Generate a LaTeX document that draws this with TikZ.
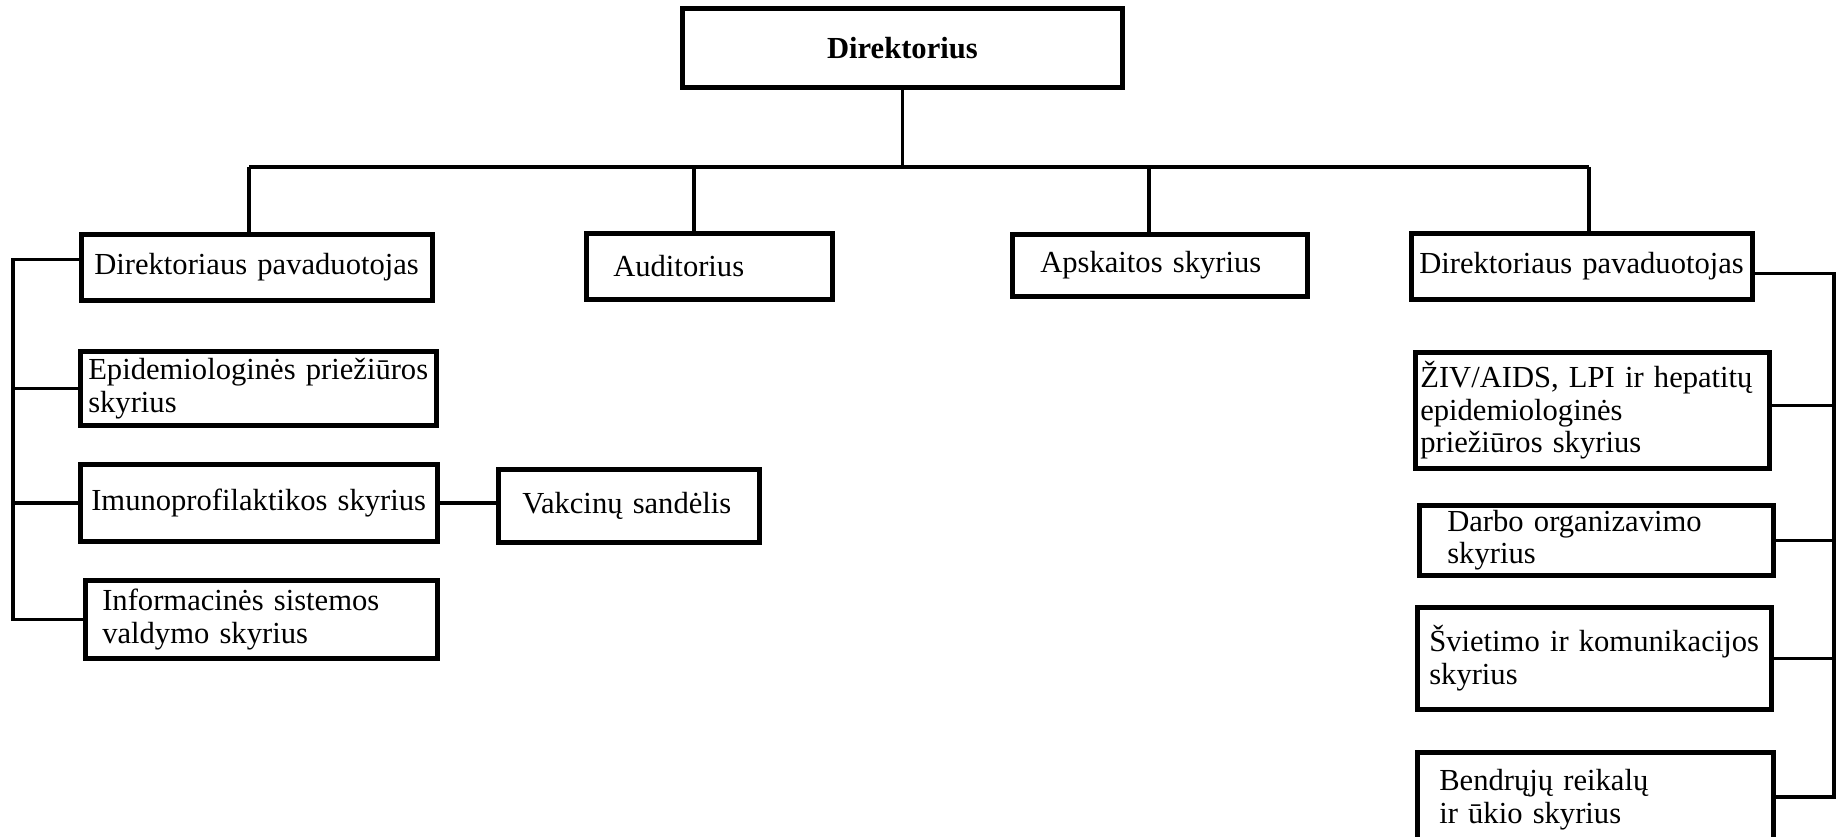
\documentclass[tikz,border=0pt]{standalone}
\usepackage{fontspec}
\setmainfont{Liberation Serif}
\usetikzlibrary{positioning, calc}
\newcommand{\deptfont}{\fontsize{8.7}{9.3}\selectfont}
\hyphenpenalty=10000

\begin{document}
\begin{tikzpicture}[x=0.01cm, y=-0.01cm,
  unit/.style={draw, line width=1.3pt, anchor=north west, align=left, inner ysep=0pt, font=\deptfont},
  head/.style={draw, line width=1.3pt, anchor=north west, align=center, font=\deptfont\bfseries},
  link/.style={line width=1pt}]
  \useasboundingbox (0,0) rectangle (1836,837);
  \fill[white] (0,0) rectangle (1836,837);
  \clip (0,0) rectangle (1836,837);

  % Top
  \node[head, minimum width=4.4cm, minimum height=0.79cm] (dir) at (680,6) {Direktorius};

  % Second level
  \node[unit, text width=3.25cm, inner xsep=0.13cm, minimum height=0.66cm] (dpl) at (79,232) {Direktoriaus pavaduotojas};
  \node[unit, text width=1.92cm, inner xsep=0.27cm, minimum height=0.66cm] (aud) at (584,231) {Auditorius};
  \node[unit, text width=2.39cm, inner xsep=0.28cm, minimum height=0.62cm] (aps) at (1010,232) {Apskaitos skyrius};
  \node[unit, text width=3.25cm, inner xsep=0.08cm, minimum height=0.66cm] (dpr) at (1409,231) {Direktoriaus pavaduotojas};

  % Left deputy units
  \node[unit, text width=3.40cm, inner xsep=0.08cm, minimum height=0.74cm] (epi) at (78,349) {Epidemiologinės priežiūros\\skyrius};
  \node[unit, text width=3.35cm, inner xsep=0.11cm, minimum height=0.77cm] (imu) at (78,462) {Imunoprofilaktikos skyrius};
  \node[unit, text width=2.13cm, inner xsep=0.24cm, minimum height=0.73cm] (vak) at (496,467) {Vakcinų sandėlis};
  \node[unit, text width=3.18cm, inner xsep=0.17cm, minimum height=0.78cm] (inf) at (83,578) {Informacinės sistemos\\valdymo skyrius};

  % Right deputy units
  \node[unit, text width=3.44cm, inner xsep=0.05cm, minimum height=1.16cm] (ziv) at (1413,350) {ŽIV/AIDS, LPI ir hepatitų\\epidemiologinės\\priežiūros skyrius};
  \node[unit, text width=2.98cm, inner xsep=0.28cm, minimum height=0.70cm] (dar) at (1417,503) {Darbo organizavimo\\skyrius};
  \node[unit, text width=3.30cm, inner xsep=0.12cm, minimum height=1.02cm] (svi) at (1415,605) {Švietimo ir komunikacijos\\skyrius};
  \node[unit, text width=3.12cm, inner xsep=0.22cm, minimum height=0.95cm] (ben) at (1415,750) {Bendrųjų reikalų\\ir ūkio skyrius};

  % Bus under Direktorius
  \coordinate (busL) at (249,167);
  \coordinate (busR) at (1589,167);
  \coordinate (jaud) at (694,167);
  \coordinate (japs) at (1149,167);
  \draw[link] (dir.south) -- (dir.south |- busL);
  \draw[link] (busL) -- (busR);
  \draw[link] (busL) -- (busL |- dpl.north);
  \draw[link] (jaud) -- (jaud |- aud.north);
  \draw[link] (japs) -- (japs |- aps.north);
  \draw[link] (busR) -- (busR |- dpr.north);

  % Left spine
  \coordinate (spL) at (13,400);
  \draw[link] ([yshift=0.08cm]dpl.west) -| (spL) |- (inf.west);
  \draw[link] (epi.west) -- (epi.west -| spL);
  \draw[link] (imu.west) -- (imu.west -| spL);
  \draw[link] (imu.east) -- (imu.east -| vak.west);

  % Right spine
  \coordinate (spR) at (1834,500);
  \draw[link] ([yshift=-0.07cm]dpr.east) -| (spR) |- ([yshift=0.03cm]ben.east);
  \draw[link] ([yshift=0.05cm]ziv.east) -- ([yshift=0.05cm]ziv.east -| spR);
  \draw[link] (dar.east) -- (dar.east -| spR);
  \draw[link] (svi.east) -- (svi.east -| spR);
\end{tikzpicture}
\end{document}
